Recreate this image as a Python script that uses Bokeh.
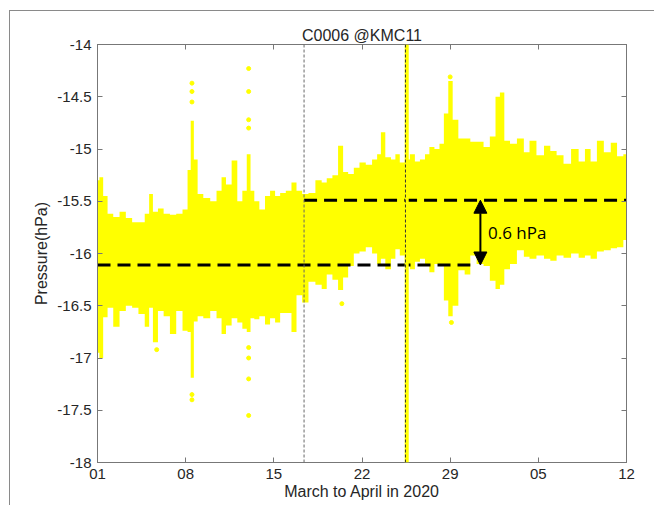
from bokeh.plotting import figure
from bokeh.models import (FixedTicker, LinearAxis, Span, Arrow, NormalHead, Label,
                          CustomJSTickFormatter, Range1d)
from bokeh.layouts import column
from bokeh.embed import file_html
from bokeh.resources import INLINE

# ---- data (days since 1 March 2020) ----
day = [0.0, 0.3, 0.6, 1.0, 1.5, 2.0, 2.5, 3.0, 3.5, 4.0, 4.2, 4.6, 5.0, 5.5, 6.0, 6.5,
       7.0, 7.3, 7.5, 7.8, 8.1, 8.7, 9.2, 9.7, 10.0, 10.4, 10.9, 11.3, 11.7, 12.0, 12.3,
       12.6, 13.1, 13.5, 13.9, 14.3, 14.7, 15.2, 15.6, 16.0, 16.5, 17.0, 17.6, 18.0,
       18.4, 18.9, 19.3, 19.7, 20.1, 20.6, 21.0, 21.6, 22.0, 22.4, 22.6, 23.1, 23.5,
       23.8, 24.2, 24.6, 25.0, 25.4, 25.8, 26.2, 26.5, 27.0, 27.3, 27.7, 28.0, 28.4,
       28.9, 29.4, 29.8, 30.4, 30.9, 31.4, 31.8, 32.1, 32.5, 33.0, 33.6, 34.1, 34.5,
       35.2, 35.7, 36.2, 36.7, 37.3, 37.9, 38.5, 38.9, 39.4, 39.9, 40.5, 41.0, 41.5, 42.0]
p_max = [-15.30, -15.27, -15.45, -15.62, -15.65, -15.60, -15.66, -15.70, -15.70, -15.62,
         -15.43, -15.60, -15.57, -15.62, -15.63, -15.62, -15.58, -15.20, -14.73, -15.10,
         -15.43, -15.47, -15.50, -15.40, -15.27, -15.34, -15.11, -15.50, -15.40, -15.05,
         -15.40, -15.50, -15.58, -15.45, -15.40, -15.45, -15.42, -15.40, -15.32, -15.40,
         -15.43, -15.42, -15.30, -15.32, -15.28, -15.25, -14.97, -15.22, -15.24, -15.18,
         -15.13, -15.15, -15.10, -15.05, -14.84, -15.08, -15.10, -15.05, -15.13, -15.10,
         -15.05, -15.12, -15.10, -15.05, -14.98, -15.00, -14.95, -14.66, -14.35, -14.72,
         -14.90, -14.90, -14.93, -14.93, -14.98, -14.88, -14.50, -14.46, -14.92, -14.95,
         -14.90, -15.03, -14.92, -15.06, -14.97, -15.02, -15.06, -15.14, -15.00, -15.12,
         -15.00, -15.12, -14.92, -15.03, -14.94, -15.07, -15.05]
p_min = [-16.95, -17.00, -16.61, -16.52, -16.70, -16.55, -16.50, -16.52, -16.58, -16.70,
         -16.52, -16.85, -16.55, -16.60, -16.77, -16.55, -16.74, -16.75, -17.19, -16.65,
         -16.60, -16.62, -16.55, -16.62, -16.77, -16.69, -16.62, -16.66, -16.72, -16.75,
         -16.62, -16.63, -16.60, -16.68, -16.62, -16.66, -16.57, -16.57, -16.75, -16.40,
         -16.47, -16.27, -16.30, -16.34, -16.20, -16.25, -16.35, -16.23, -16.12, -16.00,
         -15.98, -15.94, -16.00, -16.10, -16.05, -16.15, -16.05, -15.96, -16.02, -16.10,
         -16.15, -16.08, -16.05, -16.12, -16.18, -16.10, -16.12, -16.45, -16.60, -16.50,
         -16.16, -16.20, -16.02, -16.10, -16.12, -16.26, -16.34, -16.30, -16.15, -16.10,
         -15.97, -16.03, -16.05, -16.02, -16.05, -16.07, -16.02, -16.04, -16.00, -16.04,
         -16.02, -16.05, -15.98, -15.97, -15.95, -15.94, -15.87]
# isolated samples outside the dense band
dot_day = [7.5, 7.5, 7.5, 7.5, 7.5, 12.0, 12.0, 12.0, 12.0, 12.0, 12.0, 12.0, 12.0,
           28.0, 4.7, 28.1, 19.4, 0.0]
dot_p = [-14.37, -14.45, -14.55, -17.35, -17.40, -14.23, -14.45, -14.72, -14.80,
         -17.55, -17.20, -17.00, -16.90, -14.31, -16.92, -16.66, -16.48, -16.92]

lower_mean = -16.11
upper_mean = -15.49
lower_end = 29.6
break_day = 16.4
event_day = 24.55
arrow_day = 30.4
diff_label = "0.6 hPa"

x_tick_days = [0, 7, 14, 21, 28, 35, 42]
x_tick_labels = ["01", "08", "15", "22", "29", "05", "12"]
y_ticks = [-18, -17.5, -17, -16.5, -16, -15.5, -15, -14.5, -14]

AX = "#777777"
TXT = "#262626"
FONT = "Liberation Sans"

p = figure(width=644, height=494, x_range=Range1d(0, 42), y_range=Range1d(-18, -14),
           output_backend="svg", toolbar_location=None,
           min_border_left=87, min_border_right=28, min_border_top=33, min_border_bottom=43,
           title="C0006 @KMC11")
p.title.align = "center"
p.title.text_font = FONT
p.title.text_font_size = "16px"
p.title.text_font_style = "normal"
p.title.text_color = TXT
p.title.standoff = 1
p.xgrid.visible = False
p.ygrid.visible = False
p.outline_line_color = AX
p.background_fill_color = "white"

xa = p.below[0]
ya = p.left[0]

# data
p.varea_step(x=day, y1=p_min, y2=p_max, step_mode="center", fill_color="#FFFF00")
p.scatter(x=dot_day, y=dot_p, size=4, color="#FFFF00")

# vertical markers
p.add_layout(Span(location=break_day, dimension="height", line_color="#666666",
                  line_dash="3 2", line_width=1))
p.add_layout(Span(location=event_day, dimension="height", line_color="#FFFF00",
                  line_width=4))
p.add_layout(Span(location=event_day - 0.1, dimension="height", line_color="#333333",
                  line_dash="3 2", line_width=1))

# mean levels
p.segment(x0=[0], y0=[lower_mean], x1=[lower_end], y1=[lower_mean],
          line_color="black", line_width=3, line_dash="13 7")
p.segment(x0=[break_day], y0=[upper_mean], x1=[42], y1=[upper_mean],
          line_color="black", line_width=3, line_dash="13 7")

p.add_layout(Arrow(start=NormalHead(size=13, fill_color="black", line_color="black"),
                   end=NormalHead(size=13, fill_color="black", line_color="black"),
                   x_start=arrow_day, y_start=lower_mean, x_end=arrow_day, y_end=upper_mean,
                   line_width=2, line_color="black"))
p.add_layout(Label(x=arrow_day + 0.6, y=(lower_mean + upper_mean) / 2, text=diff_label,
                   text_font="Open Sans", text_font_size="17px", text_baseline="middle",
                   text_color="black"))

# axes
xa.ticker = FixedTicker(ticks=x_tick_days)
xa.major_label_overrides = {d: l for d, l in zip(x_tick_days, x_tick_labels)}
xa.axis_label = "March to April in 2020"
ya.ticker = FixedTicker(ticks=y_ticks)
ya.formatter = CustomJSTickFormatter(code="return tick.toString();")
ya.axis_label = "Pressure(hPa)"

top = LinearAxis(ticker=FixedTicker(ticks=x_tick_days),
                 formatter=CustomJSTickFormatter(code="return '';"),
                 major_label_standoff=0)
right = LinearAxis(ticker=FixedTicker(ticks=y_ticks),
                   formatter=CustomJSTickFormatter(code="return '';"),
                   major_label_standoff=0)
p.add_layout(top, "above")
p.add_layout(right, "right")

for ax in [xa, ya, top, right]:
    ax.axis_line_color = AX
    ax.major_tick_line_color = AX
    ax.major_tick_in = 5
    ax.major_tick_out = 0
    ax.minor_tick_line_color = None
    ax.major_label_text_font = FONT
    ax.major_label_text_color = TXT
    ax.axis_label_text_font = FONT
    ax.axis_label_text_font_style = "normal"
    ax.axis_label_text_color = TXT
    ax.axis_label_text_font_size = "16px"
for ax in [xa, ya]:
    ax.major_label_text_font_size = "15px"
    ax.major_label_standoff = 6
ya.axis_label_standoff = 4
xa.axis_label_standoff = 1

layout = column(p, styles={"border-top": "1px solid #8a8a8a", "border-left": "1px solid #8a8a8a",
                           "margin-left": "9px", "margin-top": "10px"})

open("out.html", "w").write(file_html(layout, INLINE))
